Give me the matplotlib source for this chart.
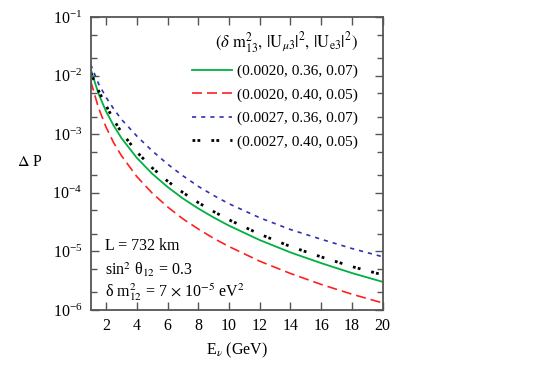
import matplotlib
matplotlib.use("Agg")
import matplotlib.pyplot as plt
from matplotlib.ticker import LogLocator, NullFormatter

plt.rcParams['font.family'] = ['Liberation Serif', 'DejaVu Serif']
plt.rcParams['mathtext.fontset'] = 'stix'

energy = [1, 1.5, 2, 2.5, 3, 4, 5, 6, 7, 8, 9, 10, 12, 14, 16, 18, 20]
green_vals = [1.29e-2, 4.98e-3, 2.45e-3, 1.39e-3, 8.6e-4, 3.95e-4, 2.12e-4, 1.26e-4, 8.0e-5,
              5.4e-5, 3.79e-5, 2.75e-5, 1.56e-5, 9.6e-6, 6.3e-6, 4.27e-6, 3.02e-6]
red_vals = [8.1e-3, 2.86e-3, 1.32e-3, 7.1e-4, 4.3e-4, 1.89e-4, 9.9e-5, 5.75e-5, 3.59e-5,
            2.41e-5, 1.67e-5, 1.21e-5, 6.8e-6, 4.2e-6, 2.73e-6, 1.86e-6, 1.32e-6]
blue_vals = [1.55e-2, 7.36e-3, 4.26e-3, 2.70e-3, 1.79e-3, 9.3e-4, 5.2e-4, 3.09e-4, 1.95e-4,
             1.29e-4, 9.0e-5, 6.5e-5, 3.75e-5, 2.36e-5, 1.61e-5, 1.12e-5, 8.1e-6]
black_vals = [1.12e-2, 5.58e-3, 3.08e-3, 1.75e-3, 1.08e-3, 4.98e-4, 2.67e-4, 1.58e-4, 1.01e-4,
              6.8e-5, 4.78e-5, 3.46e-5, 1.97e-5, 1.21e-5, 8.05e-6, 5.5e-6, 3.98e-6]

labels = ["(0.0020, 0.36, 0.07)", "(0.0020, 0.40, 0.05)",
          "(0.0027, 0.36, 0.07)", "(0.0027, 0.40, 0.05)"]
legend_title = r"$(\delta\ \mathrm{m}^2_{13},\,|\mathrm{U}_{\mu 3}|^2,\,|\mathrm{U}_{\mathrm{e}3}|^2)$"
x_ticks = [2, 4, 6, 8, 10, 12, 14, 16, 18, 20]

fig = plt.figure(figsize=(5.45, 3.82), dpi=100)
ax = fig.add_axes([0.1664, 0.1885, 0.5358, 0.767])

ax.plot(energy, green_vals, color='#00b040', lw=1.3, ls='-', label=labels[0])
ax.plot(energy, red_vals, color='#ff2020', lw=1.2, ls=(0, (6, 3)), label=labels[1])
ax.plot(energy, blue_vals, color='#3030b0', lw=1.2, ls=(0, (2.5, 3)), label=labels[2])
ax.plot(energy, black_vals, color='black', lw=2.0, ls=(0, (1, 0.8, 1, 4)), label=labels[3])

ax.set_yscale('log')
ax.set_xlim(1, 20)
ax.set_ylim(1e-6, 1e-1)
ax.set_xticks(x_ticks)
ax.yaxis.set_major_locator(LogLocator(base=10, numticks=10))
ax.yaxis.set_minor_locator(LogLocator(base=10, subs=(2, 5), numticks=10))
ax.yaxis.set_minor_formatter(NullFormatter())
ax.tick_params(which='both', direction='in', top=True, right=True, labelsize=11.5,
               color='#555555', pad=6)
ax.tick_params(which='major', length=6, width=1)
ax.tick_params(which='minor', length=4, width=1)
for s in ax.spines.values():
    s.set_color('#555555')
    s.set_linewidth(1.3)

ax.set_xlabel(r"E$_{\nu}$ (GeV)", fontsize=11.5, labelpad=5)
ax.set_ylabel(r"$\Delta$ P", fontsize=11.5, rotation=0, ha='center', va='center')
ax.yaxis.set_label_coords(-0.208, 0.505)

ax.text(0.05, 0.218, "L = 732 km", transform=ax.transAxes, fontsize=11.5, va='center')
ax.text(0.05, 0.138, "sin$^2$ θ$_{12}$ = 0.3", transform=ax.transAxes, fontsize=11.5, va='center')
ax.text(0.05, 0.062, r"δ m$^2_{12}$ = 7 $\times$ 10$^{-5}$ eV$^2$", transform=ax.transAxes,
        fontsize=11.5, va='center')

leg = ax.legend(title=legend_title, loc='upper right', bbox_to_anchor=(0.962, 1.0),
                frameon=False, fontsize=11, title_fontsize=12, handlelength=2.6,
                labelspacing=0.62, alignment='right', handletextpad=0.35)

fig.savefig("out.png", dpi=100)
